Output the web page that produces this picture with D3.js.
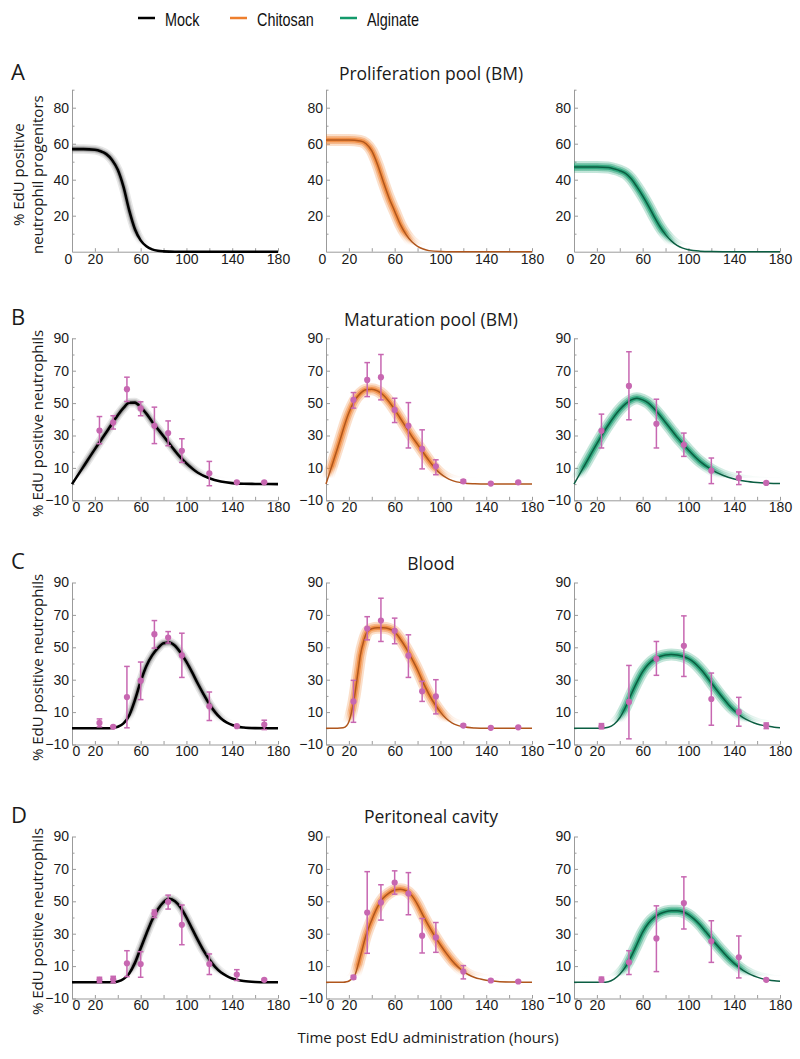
<!DOCTYPE html>
<html>
<head>
<meta charset="utf-8">
<style>
body { margin: 0; background: #fff; }
svg { display: block; }
.axis path, .axis line { stroke: #9b9b9b; stroke-width: 1px; }
.axis text { font-family: "Liberation Sans", Arial, sans-serif; font-size: 14px; fill: #1a1a1a; }
.ttl { font-family: "Open Sans", sans-serif; font-size: 17.5px; fill: #1a1a1a; }
.ylab { font-family: "Open Sans", sans-serif; font-size: 15px; fill: #1a1a1a; }
.letter { font-family: "Open Sans", sans-serif; font-size: 22px; fill: #1a1a1a; }
.legend text { font-family: "Liberation Sans", Arial, sans-serif; font-size: 18px; fill: #111; }
</style>
</head>
<body>
<svg></svg>
<script src="https://cdn.jsdelivr.net/npm/d3@7/dist/d3.min.js"></script>
<script>
// treatments / legend
var treatments = ["Mock", "Chitosan", "Alginate"];
var bandColors = ["#555555", "#ee7f2d", "#139a6b"];
var lineColors = ["#000000", "#b0561c", "#0b5e42"];

// x axis ticks
var xTicks = [0, 20, 40, 60, 80, 100, 120, 140, 160, 180];
var xLabels = [0, 20, 60, 100, 140, 180];

// model fits, [hours, % EdU+]
var prolifMock = [[0,57],[10,57],[20,56.6],[25,55.8],[30,54.2],[35,51],[40,45.5],[45,36],[50,23],[55,12.5],[60,6.3],[65,3],[70,1.3],[75,0.5],[80,0.2],[90,0],[180,0]];
var prolifChit = [[0,62],[10,62],[20,62],[30,61.5],[35,60],[40,56],[45,48.5],[50,39],[55,30],[60,22.5],[65,15],[70,9.5],[75,5.5],[80,3],[85,1.5],[90,0.6],[100,0.1],[110,0],[180,0]];
var prolifAlg = [[0,47],[10,47],[20,47],[30,46.8],[35,46],[40,45],[45,43.5],[50,40.5],[55,36],[60,31],[65,25.5],[70,19.5],[75,14],[80,9.5],[85,6],[90,3.5],[95,2],[100,1.1],[110,0.3],[120,0.05],[130,0],[180,0]];

var matMock = [[0,0],[10,10.8],[20,21.6],[30,32],[40,42.5],[45,47],[50,50.2],[55,50.3],[60,47.5],[65,43.5],[70,38.5],[75,34],[80,29.5],[85,25],[90,20.5],[95,16.3],[100,12.8],[110,7],[120,3.6],[130,1.6],[140,0.6],[150,0.2],[160,0.1],[180,0]];
var matChit = [[0,0],[10,22],[20,44],[25,51.5],[30,56],[35,58.3],[40,58.5],[45,57.5],[50,55],[55,51],[60,46],[65,40.5],[70,35],[75,29.5],[80,24.5],[85,19.5],[90,14.5],[95,10],[100,6.5],[105,4],[110,2.3],[120,0.7],[130,0.2],[140,0],[180,0]];
var matAlg = [[0,0],[10,12.5],[20,25],[30,36.5],[40,46],[45,49.5],[50,52],[55,53],[60,52],[65,50],[70,46.5],[75,42.5],[80,38],[85,33.5],[90,29],[95,25],[100,21],[110,14],[120,9],[130,5.5],[140,3.2],[150,1.8],[160,1],[170,0.5],[180,0.3]];

var bloodMock = [[0,0],[30,0],[35,0.2],[40,1],[45,3],[50,8],[55,17.5],[60,29],[65,38.5],[70,45],[75,49.5],[80,52.5],[85,53],[90,51],[95,46.5],[100,41],[105,34.5],[110,27.5],[115,21],[120,15],[125,10],[130,6.2],[135,3.6],[140,2],[145,1],[150,0.5],[160,0.1],[170,0],[180,0]];
var bloodChit = [[0,0],[10,0],[15,0.3],[18,1.5],[20,4],[22,9],[25,20],[28,35],[30,45],[33,54],[36,59.5],[40,61.5],[45,62],[50,62],[55,61.5],[60,59.5],[65,55],[70,49.5],[75,43],[80,36],[85,28],[90,21],[95,15],[100,10],[105,6],[110,3.3],[115,1.8],[120,0.9],[130,0.2],[140,0],[180,0]];
var bloodAlg = [[0,0],[20,0],[25,0.1],[30,0.6],[35,2.5],[40,6.5],[45,13],[50,21],[55,28.5],[60,35],[65,39.5],[70,42.5],[75,44.3],[80,45.2],[85,45.5],[90,45.3],[95,44.5],[100,43],[105,40.5],[110,37],[115,32.8],[120,28],[125,23.3],[130,18.8],[135,14.6],[140,11],[145,8],[150,5.7],[155,4],[160,2.7],[165,1.8],[170,1.2],[175,0.7],[180,0.4]];

var peritMock = [[0,0],[35,0],[40,0.5],[45,2],[50,5.5],[55,12],[60,21],[65,30],[70,38.5],[75,45],[80,49.5],[85,51.5],[90,50],[95,46],[100,40],[105,33],[110,26],[115,19.5],[120,14],[125,9.5],[130,6.2],[135,4],[140,2.4],[145,1.4],[150,0.8],[160,0.2],[170,0],[180,0]];
var peritChit = [[0,0],[15,0],[18,0.3],[20,0.8],[25,4],[30,16],[35,29],[40,38.5],[45,46.5],[50,52],[55,55],[60,57],[65,57.5],[70,56.5],[75,53.5],[80,48],[85,41],[90,34.5],[95,28.5],[100,23],[105,18],[110,13.5],[115,9.7],[120,6.8],[125,4.5],[130,3],[135,2],[140,1.2],[150,0.5],[160,0.2],[170,0.1],[180,0]];
var peritAlg = [[0,0],[25,0],[30,0.4],[35,2],[40,5],[45,9.5],[50,16],[55,23.5],[60,31],[65,36.5],[70,40],[75,42.3],[80,43.6],[85,44.2],[90,44.2],[95,43.5],[100,41.8],[105,39],[110,35.5],[115,31.3],[120,27],[125,22.8],[130,18.8],[135,15],[140,11.7],[145,8.8],[150,6.4],[155,4.6],[160,3.2],[165,2.1],[170,1.4],[175,0.9],[180,0.6]];

// measurements, [hours, mean, low, high]
var matMockPts = [[24,33.1,24.9,41.7],[36,38,34,42.2],[48,58.6,51,66],[60,46.7,42.2,50.8],[72,36,25,47.5],[84,31.5,23.7,39],[96,20.6,13.4,28],[120,6.7,-1,14],[144,1.1,0.6,1.6],[168,1.1,0.6,1.6]];
var matChitPts = [[24,52,46.9,56.5],[36,64.3,54,75],[48,66,52,80],[60,45.8,38,53],[72,36,22.3,50.3],[84,21.7,9.4,33.5],[96,11,5.8,15],[120,1.7,0.7,2.7],[144,0.3,0,0.6],[168,1.1,0.6,1.6]];
var matAlgPts = [[24,32.9,22.3,43.2],[48,60.6,39.7,81.7],[72,37.2,22.3,52.4],[96,24.3,17.1,31.5],[120,8.3,0.3,16.1],[144,3.8,-0.3,7.5],[168,0.7,0.2,1.2]];

var bloodMockPts = [[24,3.3,0.9,5.8],[36,0.9,0.4,1.4],[48,19.3,0.3,38.2],[60,29.4,17.7,40.9],[72,58.1,49.5,66.5],[84,56,52.6,59.7],[96,45,31.4,58.7],[120,13.6,4.8,22.4],[144,1.3,0.8,1.8],[168,2.3,-0.8,5]];
var bloodChitPts = [[24,16.6,3.7,29.6],[36,61.6,54.6,68.9],[48,66.5,53.6,80.3],[60,60.2,52.2,68],[72,44.8,31.4,57.7],[84,22.8,16.6,29],[96,19.7,8.9,30],[120,1.7,1,2.4],[144,0.3,0,0.6],[168,0.6,0.2,1]];
var bloodAlgPts = [[24,1.3,-0.3,2.9],[48,16.3,-6.5,38.8],[72,42.9,32.7,53.6],[96,50.9,32,69.4],[120,18.1,1.9,34.1],[144,10.1,1.3,19.1],[168,1.7,-0.2,3.3]];

var peritMockPts = [[24,1.5,-0.2,3.1],[36,1.9,-0.3,3.7],[48,11.7,3.5,19.5],[60,11.3,3.1,18.9],[72,42.5,40,44.6],[84,49.7,45.2,53.8],[96,35.5,23.2,47.7],[120,11.3,4.8,17.5],[144,4.8,1.1,7.8],[168,1.5,1,2]];
var peritChitPts = [[24,3.1,2,4.2],[36,43.1,17.9,68.3],[48,49.3,38.4,60.2],[60,61.6,54.4,68.8],[72,54.8,41.7,67.7],[84,28.8,18.1,39.4],[96,27.7,18.5,36.9],[120,6.6,2.1,10.3],[144,1.1,0.5,1.7],[168,0.5,0.1,0.9]];
var peritAlgPts = [[24,1.7,0.2,3.2],[48,12.3,4.8,19.5],[72,27.1,6.6,47.2],[96,48.9,32.9,65.1],[120,25.3,12.3,38],[144,15.4,2.7,28.6],[168,1.5,1,2]];

var rows = [
  { letter: "A", title: "Proliferation pool (BM)", ylab: ["% EdU positive", "neutrophil progenitors"],
    yDomain: [0, 90], yLabels: [20, 40, 60, 80], yTicks: d3.range(10, 91, 10),
    curves: [prolifMock, prolifChit, prolifAlg], pts: [null, null, null] },
  { letter: "B", title: "Maturation pool (BM)", ylab: ["% EdU positive neutrophils"],
    yDomain: [-10, 90], yLabels: [-10, 10, 30, 50, 70, 90], yTicks: d3.range(-10, 91, 10),
    curves: [matMock, matChit, matAlg], pts: [matMockPts, matChitPts, matAlgPts] },
  { letter: "C", title: "Blood", ylab: ["% EdU positive neutrophils"],
    yDomain: [-10, 90], yLabels: [-10, 10, 30, 50, 70, 90], yTicks: d3.range(-10, 91, 10),
    curves: [bloodMock, bloodChit, bloodAlg], pts: [bloodMockPts, bloodChitPts, bloodAlgPts] },
  { letter: "D", title: "Peritoneal cavity", ylab: ["% EdU positive neutrophils"],
    yDomain: [-10, 90], yLabels: [-10, 10, 30, 50, 70, 90], yTicks: d3.range(-10, 91, 10),
    curves: [peritMock, peritChit, peritAlg], pts: [peritMockPts, peritChitPts, peritAlgPts] }
];

var width = 800, height = 1059;
var colX = [72, 326, 574], plotW = 206;
var rowY = [89.7, 338.3, 582.5, 836.5], plotH = 162;
var letterY = [80, 325, 569, 823], titleY = [80, 326, 570, 823];
var dotColor = "#c767b1";

var svg = d3.select("svg").attr("width", width).attr("height", height);
var defs = svg.append("defs");

// legend (narrow type, squeezed horizontally)
var legend = svg.append("g").attr("class", "legend");
var legX = [138, 230, 340];
treatments.forEach(function(t, i) {
  legend.append("line")
      .attr("x1", legX[i]).attr("x2", legX[i] + 17)
      .attr("y1", 18).attr("y2", 18)
      .attr("stroke", i == 0 ? "#000" : bandColors[i]).attr("stroke-width", 2.5);
  legend.append("text")
      .attr("transform", "translate(" + (legX[i] + 27) + ",25.5) scale(0.8,1)")
      .text(t);
});

rows.forEach(function(row, ri) {
  var top = rowY[ri];

  svg.append("text").attr("class", "letter")
      .attr("x", 11).attr("y", letterY[ri]).text(row.letter);
  svg.append("text").attr("class", "ttl")
      .attr("x", colX[1] + plotW / 2 + 2).attr("y", titleY[ri])
      .attr("text-anchor", "middle").text(row.title);

  // y axis title, first column only
  var yl = svg.append("text").attr("class", "ylab")
      .attr("transform", "translate(" + (row.ylab.length > 1 ? 24 : 43) + "," + (top + plotH / 2 + 4) + ") rotate(-90)")
      .attr("text-anchor", "middle");
  row.ylab.forEach(function(s, k) {
    yl.append("tspan").attr("x", 0).attr("dy", k == 0 ? 0 : 18.5).text(s);
  });

  for (var ci = 0; ci < 3; ci++) {
    var g = svg.append("g").attr("transform", "translate(" + colX[ci] + "," + top + ")");
    var x = d3.scaleLinear().domain([0, 180]).range([0, plotW]);
    var y = d3.scaleLinear().domain(row.yDomain).range([plotH, 0]);

    // axes
    var yMinor = row.yTicks.filter(function(d) { return row.yLabels.indexOf(d) < 0; });
    g.append("g").attr("class", "axis")
        .call(d3.axisLeft(y).tickValues(yMinor).tickSize(-2.5).tickSizeOuter(0).tickFormat(""));
    g.append("g").attr("class", "axis")
        .call(d3.axisLeft(y).tickValues(row.yLabels).tickSize(-4).tickSizeOuter(0).tickPadding(3));
    var xa = g.append("g").attr("class", "axis").attr("transform", "translate(0," + plotH + ")")
        .call(d3.axisBottom(x).tickValues(xTicks).tickSize(-3.5).tickSizeOuter(0).tickPadding(2)
          .tickFormat(function(d) { return xLabels.indexOf(d) >= 0 ? d : ""; }));
    xa.selectAll(".tick text").filter(function(d) { return d == 0; }).attr("dx", ri > 0 ? 4 : -4);

    // band fades out near zero, where the fits have almost no spread
    var gid = "band" + ri + "_" + ci;
    var grad = defs.append("linearGradient").attr("id", gid)
        .attr("gradientUnits", "userSpaceOnUse")
        .attr("x1", 0).attr("x2", 0).attr("y1", y(3.5)).attr("y2", y(11));
    grad.append("stop").attr("offset", 0).attr("stop-color", bandColors[ci]).attr("stop-opacity", 0);
    grad.append("stop").attr("offset", 1).attr("stop-color", bandColors[ci]).attr("stop-opacity", 1);

    var line = d3.line()
        .x(function(d) { return x(d[0]); })
        .y(function(d) { return y(d[1]); })
        .curve(d3.curveMonotoneX);
    var data = row.curves[ci];
    var bw = ci == 0 ? [9.5, 6.5, 4.5] : [12, 8, 4.5];
    var bo = ci == 0 ? [0.14, 0.22, 0.35] : [0.25, 0.4, 0.7];
    bw.forEach(function(w, k) {
      g.append("path").datum(data).attr("d", line)
          .attr("fill", "none").attr("stroke", "url(#" + gid + ")")
          .attr("stroke-width", w).attr("stroke-opacity", bo[k])
          .attr("stroke-linejoin", "round");
    });
    g.append("path").datum(data).attr("d", line)
        .attr("fill", "none").attr("stroke", lineColors[ci])
        .attr("stroke-width", ci == 0 ? 2.6 : 1.5);

    // measurements
    var pts = row.pts[ci];
    if (pts) {
      var eb = g.append("g").attr("stroke", dotColor).attr("stroke-width", 1.5).attr("fill", "none");
      eb.selectAll(".bar").data(pts).enter().append("line")
          .attr("x1", function(d) { return x(d[0]); }).attr("x2", function(d) { return x(d[0]); })
          .attr("y1", function(d) { return y(d[2]); }).attr("y2", function(d) { return y(d[3]); });
      [2, 3].forEach(function(k) {
        eb.selectAll(".cap" + k).data(pts).enter().append("line")
            .attr("x1", function(d) { return x(d[0]) - 2.8; }).attr("x2", function(d) { return x(d[0]) + 2.8; })
            .attr("y1", function(d) { return y(d[k]); }).attr("y2", function(d) { return y(d[k]); });
      });
      g.selectAll(".dot").data(pts).enter().append("circle")
          .attr("cx", function(d) { return x(d[0]); })
          .attr("cy", function(d) { return y(d[1]); })
          .attr("r", 3.1).attr("fill", dotColor);
    }
  }
});

svg.append("text").attr("class", "ylab")
    .attr("x", 428).attr("y", 1043).attr("text-anchor", "middle")
    .text("Time post EdU administration (hours)");
</script>
</body>
</html>
